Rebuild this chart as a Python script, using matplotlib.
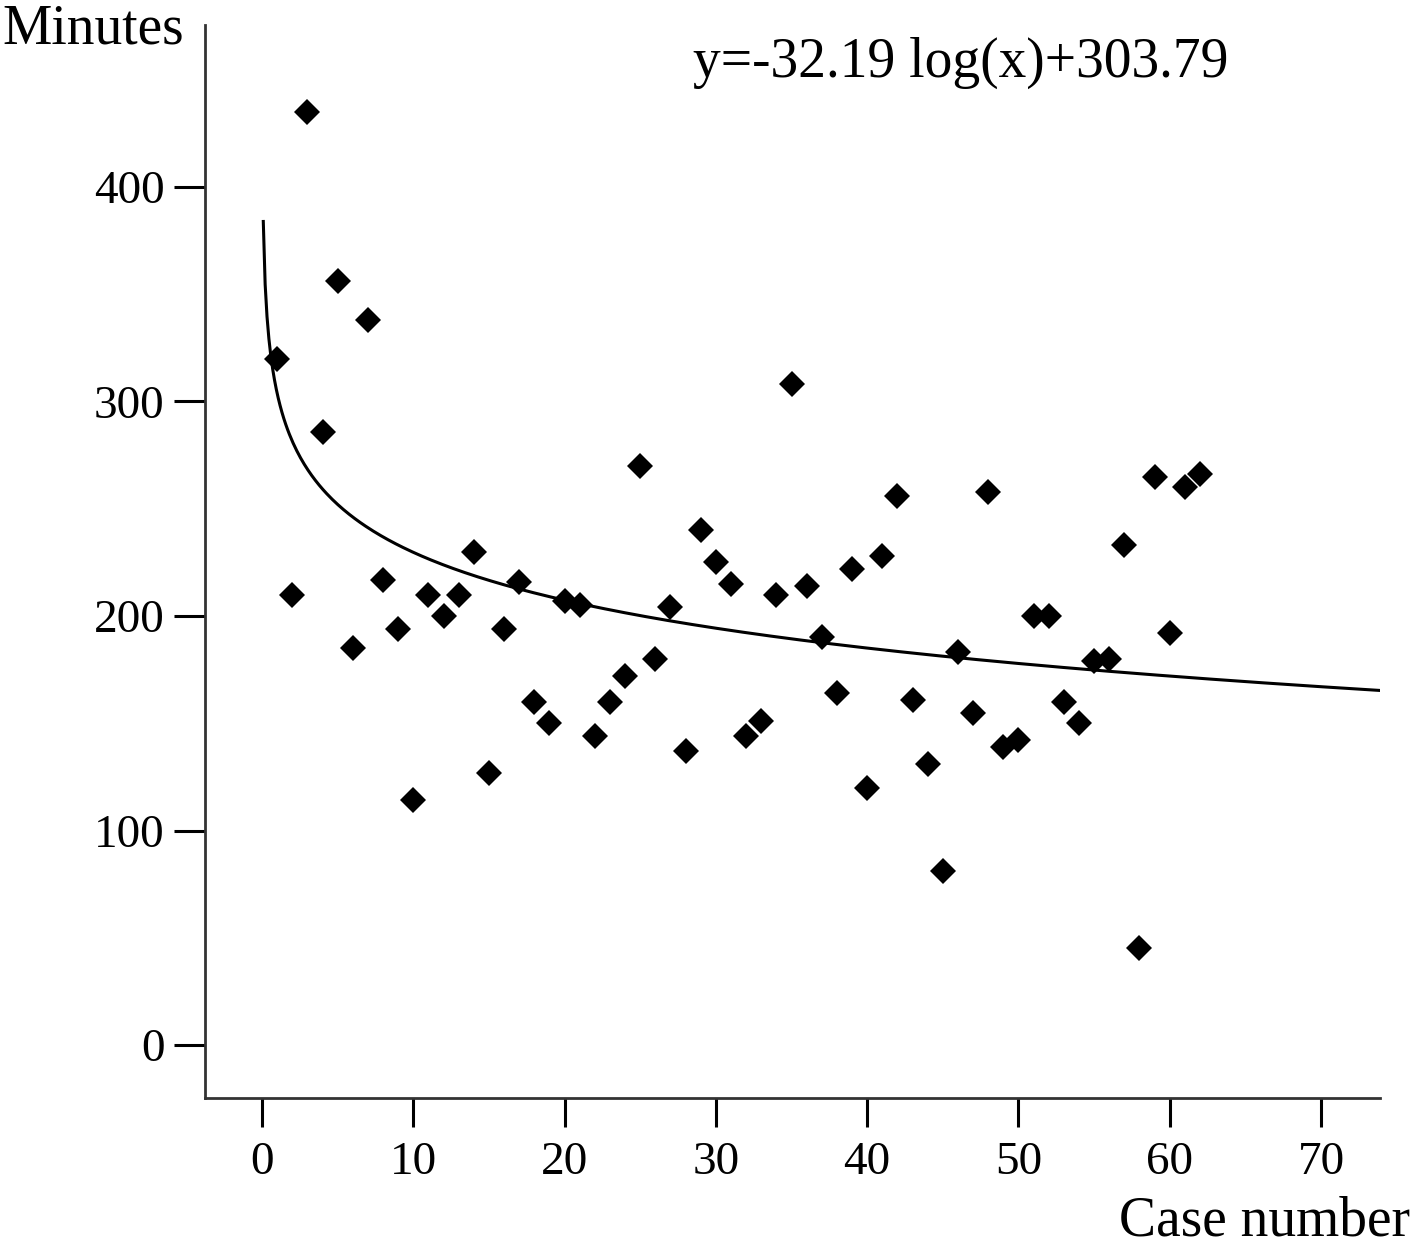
"""Operating time vs case number with logarithmic learning-curve fit."""
import numpy as np
import matplotlib
matplotlib.use('Agg')
import matplotlib.pyplot as plt

plt.rcParams['font.family'] = ['Liberation Serif', 'DejaVu Serif']

case = list(range(1, 63))
minutes = [320, 210, 435, 286, 356, 185, 338, 217, 194, 114,
           210, 200, 210, 230, 127, 194, 216, 160, 150, 207,
           205, 144, 160, 172, 270, 180, 204, 137, 240, 225,
           215, 144, 151, 210, 308, 214, 190, 164, 222, 120,
           228, 256, 161, 131, 81, 183, 155, 258, 139, 142,
           200, 200, 160, 150, 179, 180, 233, 45, 265, 192,
           260, 266]
fit_a, fit_b = -32.19, 303.79
xticks = [0, 10, 20, 30, 40, 50, 60, 70]
yticks = [0, 100, 200, 300, 400]

W, H = 1416, 1248
fig = plt.figure(figsize=(W / 100, H / 100), dpi=100)
ax = fig.add_axes([205 / W, 1 - 1098 / H, (1380 - 205) / W, (1098 - 25) / H])

xs = np.linspace(0.083, 73.9, 600)
ax.plot(xs, fit_a * np.log(xs) + fit_b, color='black', lw=2.2)
ax.plot(case, minutes, 'D', color='black', ms=13, mew=0)

ax.set_xlim(-3.77, 73.9)
ax.set_ylim(-24.7, 475.5)
ax.set_xticks(xticks)
ax.set_yticks(yticks)
for s in ('top', 'right'):
    ax.spines[s].set_visible(False)
for s in ('left', 'bottom'):
    ax.spines[s].set_linewidth(2)
    ax.spines[s].set_color('#333333')
ax.tick_params(axis='x', length=21, width=2.2, pad=10, labelsize=34)
ax.tick_params(axis='y', length=22, width=2.2, pad=7, labelsize=34)

fig.text(2 / W, 1 - 43 / H, 'Minutes', fontsize=40, va='baseline', ha='left')
fig.text(693 / W, 1 - 77 / H, 'y=-32.19 log(x)+303.79', fontsize=40,
         va='baseline', ha='left')
fig.text(1410 / W, 1 - 1235 / H, 'Case number', fontsize=40,
         va='baseline', ha='right')

fig.savefig('out.png', dpi=100)
